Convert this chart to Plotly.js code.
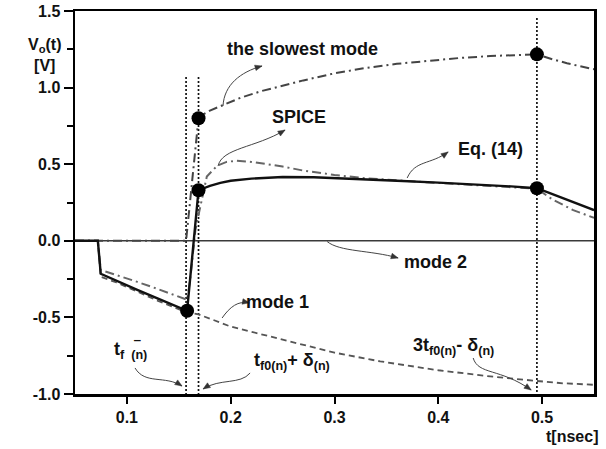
<!DOCTYPE html>
<html>
<head>
<meta charset="utf-8">
<script src="https://cdn.plot.ly/plotly-3.0.1.min.js"></script>
<style>
  html, body { margin: 0; padding: 0; background: #ffffff; }
  #chart { width: 606px; height: 449px; }
</style>
</head>
<body>
<div id="chart"></div>
<script>
// Output voltage V0(t) of the line termination: equation (14), SPICE and modal components.

// Eq. (14) (solid)
var tEq = [0.05, 0.072, 0.0748, 0.09, 0.11, 0.13, 0.158, 0.169, 0.18, 0.19, 0.20, 0.22, 0.25, 0.28, 0.32, 0.36, 0.40, 0.44, 0.47, 0.495, 0.52, 0.55];
var vEq = [0, 0, -0.215, -0.262, -0.32, -0.378, -0.457, 0.33, 0.358, 0.378, 0.392, 0.406, 0.416, 0.415, 0.405, 0.392, 0.38, 0.367, 0.355, 0.343, 0.28, 0.2];

// SPICE simulation (dash-dot)
var tSpice = [0.05, 0.072, 0.0748, 0.09, 0.11, 0.13, 0.158, 0.161, 0.166, 0.170, 0.177, 0.187, 0.196, 0.206, 0.22, 0.25, 0.27, 0.30, 0.33, 0.37, 0.42, 0.46, 0.495, 0.51, 0.53, 0.55];
var vSpice = [0, 0, -0.19, -0.222, -0.268, -0.315, -0.385, -0.25, 0.07, 0.2, 0.42, 0.49, 0.515, 0.523, 0.515, 0.485, 0.458, 0.43, 0.408, 0.39, 0.37, 0.357, 0.34, 0.27, 0.2, 0.15];

// The slowest mode (dash-dot)
var tSlow = [0.05, 0.157, 0.169, 0.172, 0.18, 0.193, 0.21, 0.23, 0.248, 0.27, 0.30, 0.33, 0.36, 0.39, 0.42, 0.45, 0.47, 0.485, 0.495, 0.51, 0.524, 0.548, 0.55];
var vSlow = [0, 0, 0.8, 0.82, 0.85, 0.887, 0.935, 0.978, 1.011, 1.047, 1.093, 1.128, 1.155, 1.176, 1.193, 1.206, 1.213, 1.218, 1.217, 1.185, 1.159, 1.122, 1.12];

// Mode 1 (dashed)
var tMode1 = [0.05, 0.072, 0.0748, 0.09, 0.11, 0.13, 0.158, 0.169, 0.2, 0.225, 0.26, 0.3, 0.344, 0.4, 0.45, 0.489, 0.495, 0.52, 0.55];
var vMode1 = [0, 0, -0.235, -0.272, -0.332, -0.392, -0.468, -0.48, -0.56, -0.603, -0.66, -0.73, -0.787, -0.845, -0.885, -0.907, -0.915, -0.93, -0.94];

// Mode 2 (thin solid)
var tMode2 = [0.05, 0.55];
var vMode2 = [0, 0];

// Characteristic instants and the sampled values
var tMark = [0.158, 0.169, 0.169, 0.495, 0.495];
var vMark = [-0.457, 0.33, 0.8, 0.343, 1.217];

// Vertical guides at t_f-, t_f0 + delta and 3 t_f0 - delta
var tGuide = [0.157, 0.169, 0.495];
var guideTop = [1.07, 1.07, 1.455];
var guideBottom = -1.0;

// Axis ticks
var xTickVals = [0.1, 0.2, 0.3, 0.4, 0.5];
var xTickText = ['0.1', '0.2', '0.3', '0.4', '0.5'];
var yTickVals = [-1.0, -0.5, 0.0, 0.5, 1.0, 1.5];
var yTickText = ['-1.0', '-0.5', '0.0', '0.5', '1.0', '1.5'];

var X_RANGE = [0.05, 0.55];
var Y_RANGE = [-1.0, 1.5];
var M = {l: 75, r: 12, t: 11, b: 55};
var W = 606, H = 449;
var PW = W - M.l - M.r, PH = H - M.t - M.b;

function toPx(x, y) {
  return [M.l + (x - X_RANGE[0]) / (X_RANGE[1] - X_RANGE[0]) * PW,
          M.t + (Y_RANGE[1] - y) / (Y_RANGE[1] - Y_RANGE[0]) * PH];
}
function toData(px, py) {
  return [X_RANGE[0] + (px - M.l) / PW * (X_RANGE[1] - X_RANGE[0]),
          Y_RANGE[1] - (py - M.t) / PH * (Y_RANGE[1] - Y_RANGE[0])];
}

// Build the guide lines as one trace separated by gaps
var gx = [], gy = [];
for (var i = 0; i < tGuide.length; i++) {
  gx.push(tGuide[i], tGuide[i], null);
  gy.push(guideTop[i], guideBottom, null);
}

var dashDot = '9px,4px,2px,4px';

var traces = [
  {x: gx, y: gy, mode: 'lines', line: {color: '#111', width: 1.7, dash: '2px,2px'}, hoverinfo: 'skip'},
  {x: tMode2, y: vMode2, mode: 'lines', line: {color: '#3a3a3a', width: 1.6}},
  {x: tMode1, y: vMode1, mode: 'lines', line: {color: '#555', width: 1.8, dash: '6px,4px'}},
  {x: tSlow, y: vSlow, mode: 'lines', line: {color: '#444', width: 2, dash: dashDot}},
  {x: tSpice, y: vSpice, mode: 'lines', line: {color: '#666', width: 2, dash: dashDot}},
  {x: tEq, y: vEq, mode: 'lines', line: {color: '#111', width: 2.4}},
  {x: tMark, y: vMark, mode: 'markers', marker: {color: '#000', size: 14}}
];

// Curved pointer arrows (start, control 1, control 2, head), in axis units
var pointers = [
  [[0.1926, 0.880], [0.1936, 1.017], [0.2093, 1.102], [0.2302, 1.141]],
  [[0.1878, 0.488], [0.1916, 0.606], [0.2234, 0.606], [0.2524, 0.723]],
  [[0.3700, 0.410], [0.3777, 0.527], [0.3920, 0.495], [0.4095, 0.580]],
  [[0.2929, -0.005], [0.3054, -0.073], [0.3343, -0.060], [0.3613, -0.112]],
  [[0.1917, -0.504], [0.1994, -0.430], [0.2071, -0.390], [0.2180, -0.405]],
  [[0.1078, -0.830], [0.1175, -0.941], [0.1367, -0.876], [0.1531, -0.948]],
  [[0.2187, -0.863], [0.2090, -0.941], [0.1898, -0.896], [0.1734, -0.967]],
  [[0.4336, -0.765], [0.4384, -0.876], [0.4596, -0.830], [0.4895, -0.974]]
];

var shapes = [];
pointers.forEach(function (p) {
  shapes.push({
    type: 'path', xref: 'x', yref: 'y',
    path: 'M' + p[0][0] + ',' + p[0][1] + ' C' + p[1][0] + ',' + p[1][1] + ' ' +
          p[2][0] + ',' + p[2][1] + ' ' + p[3][0] + ',' + p[3][1],
    line: {color: '#444', width: 1}
  });
  var a = toPx(p[2][0], p[2][1]), b = toPx(p[3][0], p[3][1]);
  var dx = b[0] - a[0], dy = b[1] - a[1], len = Math.sqrt(dx * dx + dy * dy);
  dx /= len; dy /= len;
  var L = 7, hw = 2.8;
  var c1 = toData(b[0] - dx * L - dy * hw, b[1] - dy * L + dx * hw);
  var c2 = toData(b[0] - dx * L + dy * hw, b[1] - dy * L - dx * hw);
  shapes.push({
    type: 'path', xref: 'x', yref: 'y',
    path: 'M' + p[3][0] + ',' + p[3][1] + ' L' + c1[0] + ',' + c1[1] + ' L' + c2[0] + ',' + c2[1] + ' Z',
    fillcolor: '#333', line: {color: '#333', width: 0.5}
  });
});

var FONT = 'Liberation Sans, Arial, Helvetica, sans-serif';
function label(text, x, y, size, extra) {
  var a = {text: text, x: x, y: y, xref: 'x', yref: 'y', showarrow: false,
           font: {family: FONT, size: size || 18, color: '#111', weight: 700}};
  if (extra) for (var k in extra) a[k] = extra[k];
  return a;
}

var annotations = [
  label('the slowest mode', 0.2688, 1.252),
  label('SPICE', 0.2654, 0.808),
  label('Eq. (14)', 0.450, 0.600),
  label('mode 2', 0.397, -0.138),
  label('mode 1', 0.2447, -0.399),
  label('t<sub>f  (n)</sub>', 0.103, -0.715),
  label('\u2012', 0.1098, -0.648, 12),
  label('t<sub>f0(n)</sub>+ \u03b4<sub>(n)</sub>', 0.259, -0.785),
  label('3t<sub>f0(n)</sub>- \u03b4<sub>(n)</sub>', 0.4143, -0.69),
  {text: 'V<sub>o</sub>(t)<br>[V]', xref: 'paper', yref: 'paper', x: -0.094, y: 0.94,
   showarrow: false, align: 'center',
   font: {family: FONT, size: 16, color: '#111', weight: 700}},
  {text: 't[nsec]', xref: 'paper', yref: 'paper', x: 1.012, y: -0.112,
   xanchor: 'right', yanchor: 'middle', showarrow: false,
   font: {family: FONT, size: 16, color: '#111', weight: 700}}
];

var layout = {
  width: W, height: H,
  margin: M,
  paper_bgcolor: '#fff', plot_bgcolor: '#fff',
  showlegend: false,
  xaxis: {
    range: X_RANGE, showgrid: false, zeroline: false,
    showline: true, linecolor: '#000', linewidth: 2.5, mirror: true,
    ticks: 'outside', ticklen: 7, tickwidth: 2, tickcolor: '#000',
    tickvals: xTickVals, ticktext: xTickText,
    tickfont: {family: FONT, size: 16, color: '#111', weight: 700}
  },
  yaxis: {
    range: Y_RANGE, showgrid: false, zeroline: false,
    showline: true, linecolor: '#000', linewidth: 2.5, mirror: true,
    ticks: 'outside', ticklen: 9, tickwidth: 2, tickcolor: '#000',
    tickvals: yTickVals, ticktext: yTickText,
    tickfont: {family: FONT, size: 16, color: '#111', weight: 700},
    minor: {dtick: 0.25, tick0: 0, ticks: 'outside', ticklen: 6, tickwidth: 2, tickcolor: '#000'}
  },
  shapes: shapes,
  annotations: annotations
};

Plotly.newPlot('chart', traces, layout, {displayModeBar: false, staticPlot: true});
</script>
</body>
</html>
